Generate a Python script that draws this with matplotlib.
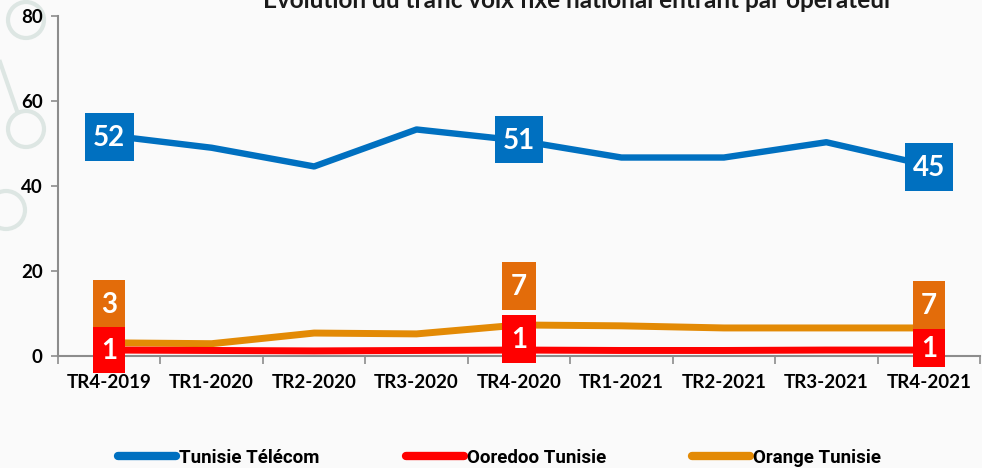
import numpy as np
import matplotlib.pyplot as plt
from matplotlib.lines import Line2D
from matplotlib.patches import Rectangle, Ellipse
from matplotlib.offsetbox import DrawingArea, AnnotationBbox

# Data
quarters = ['TR4-2019', 'TR1-2020', 'TR2-2020', 'TR3-2020', 'TR4-2020',
            'TR1-2021', 'TR2-2021', 'TR3-2021', 'TR4-2021']
tunisie_telecom = [51.9, 49.0, 44.6, 53.3, 50.7, 46.7, 46.7, 50.3, 44.8]
ooredoo = [1.4, 1.3, 1.2, 1.3, 1.4, 1.3, 1.3, 1.4, 1.4]
orange = [3.1, 2.9, 5.4, 5.2, 7.3, 7.1, 6.6, 6.6, 6.6]
yticks = [0, 20, 40, 60, 80]

# data labels: (index, text)
tt_labels = [(0, '52'), (4, '51'), (8, '45')]
oo_labels = [(0, '1'), (4, '1'), (8, '1')]
or_labels = [(0, '3'), (4, '7'), (8, '7')]

BLUE = '#0070C0'
RED = '#FF0000'
ORANGE = '#E38A05'
ORANGE_BOX = '#E36C0A'
DECOR = '#DDE6E3'

plt.rcParams['font.family'] = ['Lato', 'DejaVu Sans']

W, H = 982, 468
fig = plt.figure(figsize=(W / 100, H / 100), dpi=100, facecolor='#FAFAFA')

# faint background decoration on the left edge
for cx, cy, r in [(26, 20, 18), (26, 129, 18), (6, 210, 19)]:
    fig.add_artist(Ellipse((cx / W, 1 - cy / H), 2 * r / W, 2 * r / H,
                           fill=False, ec=DECOR, lw=3, zorder=0))
fig.add_artist(Line2D([0 / W, 17 / W], [1 - 62 / H, 1 - 111 / H],
                      color=DECOR, lw=3, zorder=0))

ax = fig.add_axes([58 / W, 1 - 356 / H, 922 / W, 340 / H])
ax.set_facecolor('none')

x = np.arange(len(quarters))
ax.plot(x, orange, color=ORANGE, lw=5, solid_capstyle='butt', zorder=3)
ax.plot(x, ooredoo, color=RED, lw=5, solid_capstyle='butt', zorder=4)
ax.plot(x, tunisie_telecom, color=BLUE, lw=4.6, solid_capstyle='butt', zorder=3)


def box_label(i, val, text, color, dx, dy, w, h):
    # box of w x h points, centred dx, dy points from the data point
    da = DrawingArea(w, h, 0, 0)
    da.add_artist(Rectangle((0, 0), w, h, fc=color, ec='none'))
    ab = AnnotationBbox(da, (i, val), xybox=(dx, dy), boxcoords='offset points',
                        frameon=False, pad=0, box_alignment=(0.5, 0.5), zorder=6)
    ax.add_artist(ab)
    ax.annotate(text, (i, val), xytext=(dx, dy - 1), textcoords='offset points',
                ha='center', va='center', color='white', fontsize=20,
                fontweight='bold', zorder=7)


tt_pos = {0: (0, -1, 35, 34.5), 4: (0, 0.7, 34.5, 34), 8: (0, -1, 34.5, 34.5)}
for i, t in tt_labels:
    dx, dy, w, h = tt_pos[i]
    box_label(i, tunisie_telecom[i], t, BLUE, dx, dy, w, h)
or_pos = {0: (0, 28, 23, 34.5), 4: (0, 28, 24, 34.5), 8: (0, 16.5, 23, 34.5)}
for i, t in or_labels:
    dx, dy, w, h = or_pos[i]
    box_label(i, orange[i], t, ORANGE_BOX, dx, dy, w, h)
oo_pos = {0: (0, 0, 23, 32.5), 4: (0, 8, 24, 34.5), 8: (0, 1.5, 23, 28)}
for i, t in oo_labels:
    dx, dy, w, h = oo_pos[i]
    box_label(i, ooredoo[i], t, RED, dx, dy, w, h)

ax.set_xlim(-0.5, len(quarters) - 0.5)
ax.set_ylim(0, 80)
ax.set_yticks(yticks)
ax.set_yticklabels([str(v) for v in yticks], fontsize=13.5, fontweight='bold')
ax.set_xticks(x)
ax.set_xticklabels(quarters, fontsize=13.5, fontweight='bold')
ax.set_xticks(np.arange(-0.5, len(quarters)), minor=True)
ax.tick_params(axis='x', which='major', length=0, pad=13)
ax.tick_params(axis='x', which='minor', length=6, color='#8C8C8C', width=1.2)
ax.tick_params(axis='y', length=5, color='#8C8C8C', width=1.2, pad=6)

for s in ['top', 'right']:
    ax.spines[s].set_visible(False)
for s in ['left', 'bottom']:
    ax.spines[s].set_color('#8C8C8C')
    ax.spines[s].set_linewidth(1.5)

fig.text(0.589, 1 - 8 / H, 'Évolution du trafic voix fixe national entrant par opérateur',
         ha='center', va='baseline', fontsize=17.5, fontweight='bold', color='#1A1A1A')

handles = [Line2D([], [], color=c, lw=6, solid_capstyle='round')
           for c in (BLUE, RED, ORANGE)]
fig.legend(handles, ['Tunisie Télécom', 'Ooredoo Tunisie', 'Orange Tunisie'],
           loc='center', bbox_to_anchor=(0.509, 10 / H), ncol=3, frameon=False,
           handlelength=3.1, handletextpad=0.15, columnspacing=4.6,
           prop={'family': ['Roboto', 'DejaVu Sans'], 'weight': 'bold', 'size': 13.5})

fig.savefig('out.png', dpi=100, facecolor=fig.get_facecolor())
